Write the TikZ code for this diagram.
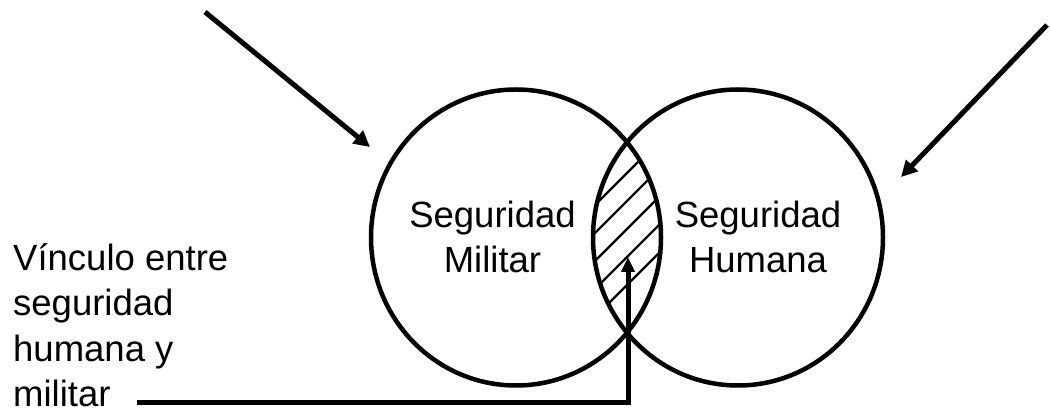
\documentclass[tikz,border=0pt]{standalone}
\usepackage{fontspec}
\setmainfont{Liberation Sans}
\usetikzlibrary{arrows.meta,shapes.geometric}
\begin{document}
\begin{tikzpicture}[x=1pt,y=-1pt,
  lbl/.style={font=\fontsize{36.5}{45.5}\selectfont, inner sep=0pt},
  ring/.style={draw, ellipse, line width=4.5pt, minimum width=290pt, minimum height=296pt, inner sep=0pt},
  arr/.style={line width=5pt, -{Triangle[length=16pt,width=16pt]}},
  link/.style={line width=5pt, -{Triangle[length=15pt,width=13pt]}},
  hatch/.style={line width=2.2pt}]
\useasboundingbox (0,0) rectangle (1050,411);
% hatching of the overlap
\begin{scope}
  \clip (516,237.5) ellipse [x radius=145, y radius=148];
  \clip (738,237.5) ellipse [x radius=145, y radius=148];
  \foreach \c in {800,828,...,912} \draw[hatch] (\c-400,400) -- (\c-100,100);
\end{scope}
% circles
\node[ring] (mil) at (516,237.5) {};
\node[ring] (hum) at (738,237.5) {};
% labels (base anchor = baseline of the last line)
\node[lbl, anchor=base, align=center] (milt) at (492.5,273) {Seguridad\\Militar};
\node[lbl, anchor=base, align=center] (humt) at (758,273) {Seguridad\\Humana};
\node[lbl, anchor=base west, align=left, text depth=0pt] (vinc) at (13,407) {Vínculo entre\\seguridad\\humana y\\militar};
% arrows
\coordinate (a1s) at (205,12);
\coordinate (a1e) at (370,147);
\coordinate (a2s) at (1047,25);
\coordinate (a2e) at (901,177);
\draw[arr] (a1s) -- (a1e);
\draw[arr] (a2s) -- (a2e);
% link
\coordinate (ls) at (137,403);
\coordinate (lc) at (628,403);
\coordinate (le) at (628,257);
\draw[link] (ls) -- (lc) -- (le);
\end{tikzpicture}
\end{document}
